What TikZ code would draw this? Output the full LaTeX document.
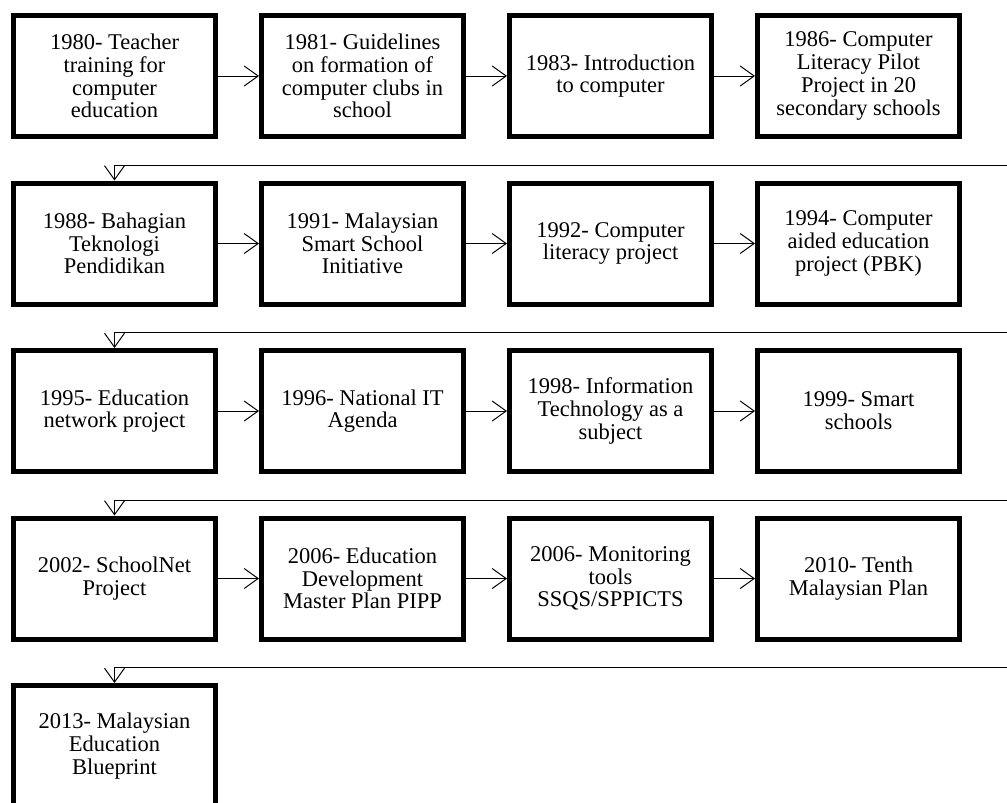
\documentclass[tikz,border=0pt]{standalone}
\usepackage{fontspec}
\setmainfont{Liberation Serif}
\usetikzlibrary{arrows.meta,positioning,calc}

\begin{document}
\begin{tikzpicture}[
  event/.style={draw,line width=3.56pt,minimum width=5.05cm,minimum height=3.025cm,
    align=center,inner sep=2pt,font=\fontsize{16}{16.2}\selectfont},
  link/.style={-{Straight Barb[length=0.35cm,width=0.5cm]},line width=0.7pt},
  node distance=1.0375cm and 1.025cm]
  \useasboundingbox (0,0) rectangle (25.175,-20.05);
  \coordinate (rim) at (25.175,0);
  % row 1
  \node[event] (y1980) at (2.8625,-1.9) {1980- Teacher\\training for\\computer\\education};
  \node[event,right=of y1980] (y1981) {1981- Guidelines\\on formation of\\computer clubs in\\school};
  \node[event,right=of y1981] (y1983) {1983- Introduction\\to computer};
  \node[event,right=of y1983] (y1986) {1986- Computer\\Literacy Pilot\\Project in 20\\secondary schools};
  % row 2
  \node[event,below=of y1980] (y1988) {1988- Bahagian\\Teknologi\\Pendidikan};
  \node[event,right=of y1988] (y1991) {1991- Malaysian\\Smart School\\Initiative};
  \node[event,right=of y1991] (y1992) {1992- Computer\\literacy project};
  \node[event,right=of y1992] (y1994) {1994- Computer\\aided education\\project (PBK)};
  % row 3
  \node[event,below=of y1988] (y1995) {1995- Education\\network project};
  \node[event,right=of y1995] (y1996) {1996- National IT\\Agenda};
  \node[event,right=of y1996] (y1998) {1998- Information\\Technology as a\\subject};
  \node[event,right=of y1998] (y1999) {1999- Smart\\schools};
  % row 4
  \node[event,below=of y1995] (y2002) {2002- SchoolNet\\Project};
  \node[event,right=of y2002] (y2006a) {2006- Education\\Development\\Master Plan PIPP};
  \node[event,right=of y2006a] (y2006b) {2006- Monitoring\\tools\\SSQS/SPPICTS};
  \node[event,right=of y2006b] (y2010) {2010- Tenth\\Malaysian Plan};
  % row 5
  \node[event,below=of y2002] (y2013) {2013- Malaysian\\Education\\Blueprint};

  % arrows along the rows
  \draw[link] (y1980) -- (y1981);
  \draw[link] (y1981) -- (y1983);
  \draw[link] (y1983) -- (y1986);
  \draw[link] (y1988) -- (y1991);
  \draw[link] (y1991) -- (y1992);
  \draw[link] (y1992) -- (y1994);
  \draw[link] (y1995) -- (y1996);
  \draw[link] (y1996) -- (y1998);
  \draw[link] (y1998) -- (y1999);
  \draw[link] (y2002) -- (y2006a);
  \draw[link] (y2006a) -- (y2006b);
  \draw[link] (y2006b) -- (y2010);

  % returns to the next row
  \coordinate (ret1) at ($(y1986.south)+(0,-0.65)$);
  \coordinate (ret2) at ($(y1994.south)+(0,-0.65)$);
  \coordinate (ret3) at ($(y1999.south)+(0,-0.65)$);
  \coordinate (ret4) at ($(y2010.south)+(0,-0.65)$);
  \draw[link] (ret1 -| rim) -| (y1988.north);
  \draw[link] (ret2 -| rim) -| (y1995.north);
  \draw[link] (ret3 -| rim) -| (y2002.north);
  \draw[link] (ret4 -| rim) -| (y2013.north);
\end{tikzpicture}
\end{document}
